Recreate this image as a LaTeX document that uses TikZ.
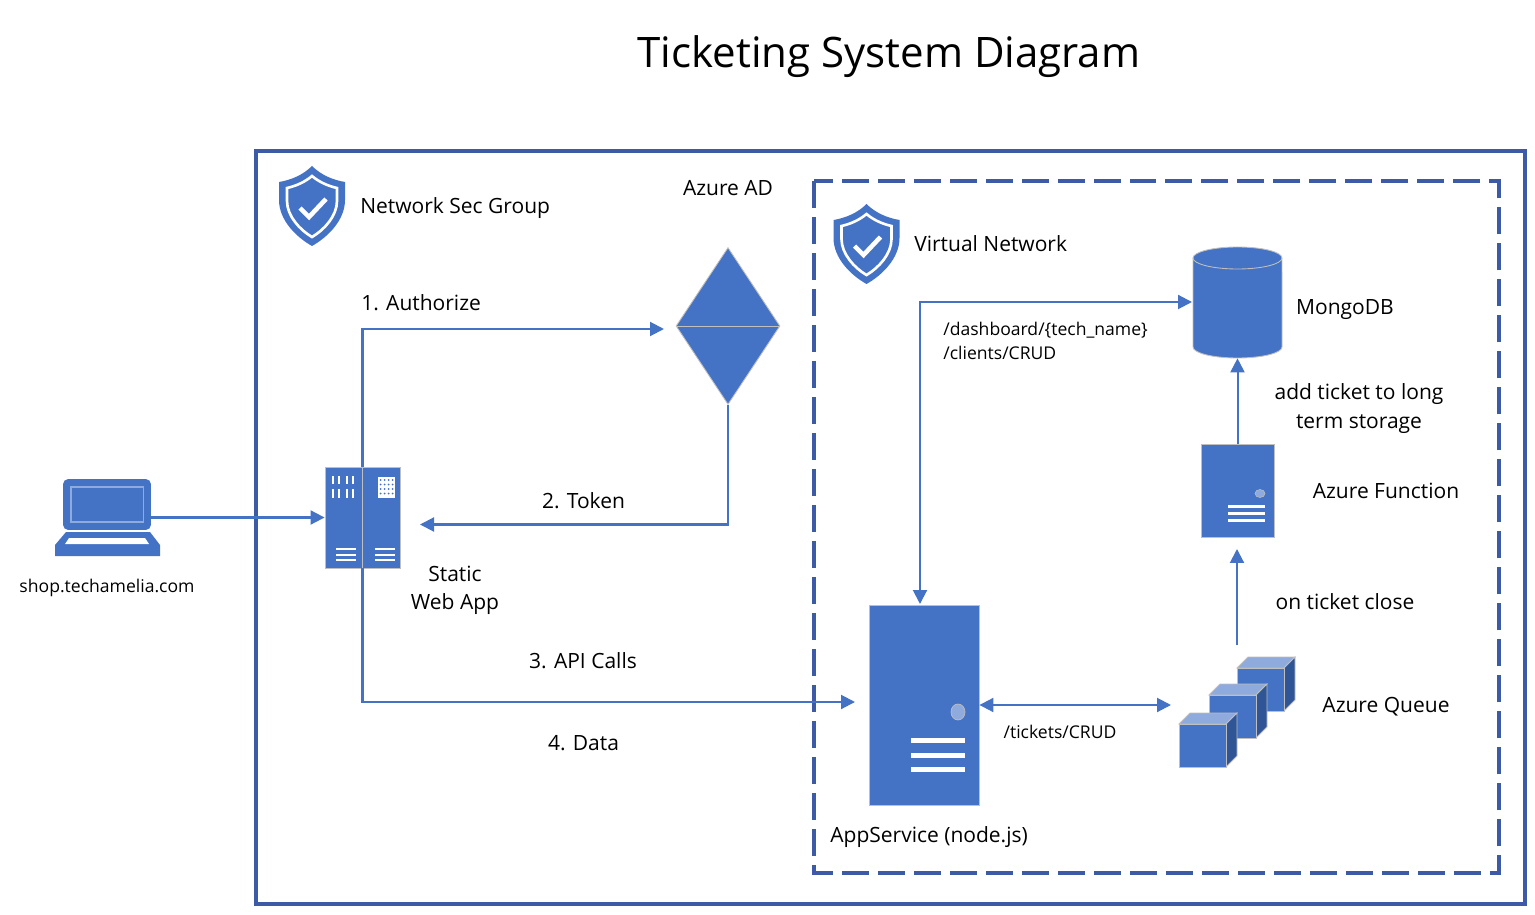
\documentclass[tikz,border=0pt]{standalone}
\usepackage{fontspec}
\setmainfont{Open Sans}
\usetikzlibrary{arrows.meta, positioning, shapes.geometric, calc}
\definecolor{CBlue}{HTML}{4472C4}
\definecolor{CLight}{HTML}{8FAADC}
\definecolor{CDeep}{HTML}{2F5597}
\definecolor{CFrame}{HTML}{3C5AA6}
\tikzset{
    framebox/.style={draw=CFrame, line width=1.8pt},
    iconbox/.style={rectangle, draw=black!25, fill=CBlue, line width=0.5pt, inner sep=0pt},
    flatlink/.style={-{Triangle[length=2.8mm, width=2.8mm]}, draw=CBlue, line width=1.15pt},
    duallink/.style={{Triangle[length=2.8mm, width=2.8mm]}-{Triangle[length=2.8mm, width=2.8mm]}, draw=CBlue, line width=1.15pt},
    labeltext/.style={font=\fontsize{11.95}{16.2}\selectfont, align=center, inner sep=0pt, text=black},
    smalltext/.style={font=\fontsize{10}{13.6}\selectfont, align=left, inner sep=0pt, text=black},
    shieldicon/.pic={
        \fill[CBlue] (0,-40) .. controls (9,-31) and (21,-26) .. (33,-24) -- (33,-6) .. controls (33,14) and (16,31) .. (0,40) .. controls (-16,31) and (-33,14) .. (-33,-6) -- (-33,-24) .. controls (-21,-26) and (-9,-31) .. (0,-40) -- cycle;
        \draw[white, line width=1.5pt] (0,-30) .. controls (7,-24) and (16,-20) .. (25,-18) -- (25,-5) .. controls (25,10) and (12,24) .. (0,31) .. controls (-12,24) and (-25,10) .. (-25,-5) -- (-25,-18) .. controls (-16,-20) and (-7,-24) .. (0,-30) -- cycle;
        \draw[white, line width=2.6pt] (-12,2) -- (-3,11) -- (14,-7);
    },
    queuecube/.pic={
        \filldraw[fill=CLight, draw=black!25, line width=0.5pt] (0,0) -- (11,-11) -- (58,-11) -- (47,0) -- cycle;
        \filldraw[fill=CDeep, draw=black!25, line width=0.5pt] (47,0) -- (58,-11) -- (58,32) -- (47,43) -- cycle;
        \filldraw[fill=CBlue, draw=black!25, line width=0.5pt] (0,0) rectangle (47,43);
    }
}

\begin{document}
\begin{tikzpicture}[x=0.02cm, y=-0.02cm]
    \useasboundingbox (0,0) rectangle (1535,915);

    % Frames
    \node[labeltext, font=\fontsize{23.9}{30}\selectfont] (title) at (889,57) {Ticketing System Diagram};
    \draw[framebox] (256,151) rectangle (1525,904);
    \draw[framebox, dash pattern=on 5.4mm off 1.8mm] (814,181) rectangle (1499,873);

    % Free ends
    \coordinate (adin) at (664,329);
    \coordinate (apiin) at (855,702);
    \coordinate (tokenin) at (420,524.5);
    \coordinate (appin) at (920,604);
    \coordinate (mongoin) at (1192,302);
    \coordinate (queuein) at (1171,705);
    \coordinate (queueout) at (1237,645);
    \coordinate (funcin) at (1237,549);

    % Nodes
    \node[rectangle, rounded corners=3pt, fill=CBlue, minimum width=1.76cm, minimum height=1.02cm, inner sep=0pt] (lapscreen) at (107,504.5) {};
    \node[iconbox, minimum width=1.5cm, minimum height=2.02cm] (staticapp) at (362.5,517.5) {};
    \node[iconbox, diamond, minimum width=2.08cm, minimum height=3.14cm, aspect=0.667] (azuread) at (728,326) {};
    \node[iconbox, minimum width=2.2cm, minimum height=4cm] (appservice) at (924,705) {};
    \node[iconbox, minimum width=1.46cm, minimum height=1.86cm] (azurefunc) at (1237.5,490.5) {};
    \node[rectangle, minimum width=1.78cm, minimum height=2.22cm, inner sep=0pt] (mongo) at (1237.5,302.5) {};

    % Paths
    \draw[flatlink] (lapscreen.east |- staticapp.west) -- (staticapp.west);
    \draw[flatlink] (staticapp.north) |- (adin);
    \draw[flatlink] (staticapp.south) |- (apiin);
    \draw[flatlink] (azuread.south) |- (tokenin);
    \draw[duallink] (appin) |- (mongoin);
    \draw[duallink] (appservice.east) -- (queuein);
    \draw[flatlink] (queueout) -- (funcin);
    \draw[flatlink] (azurefunc.north) -- (mongo.south);

    % Laptop
    \fill[CBlue] (55,556) -- (55,545) -- (66,532) -- (150,532) -- (160,545) -- (160,556) -- cycle;
    \fill[white] (65,544) -- (69,538) -- (145,538) -- (149,544) -- cycle;
    \draw[CLight, line width=0.6pt] (71,487) rectangle (143.5,522);

    % Static web app
    \draw[black!25, line width=0.5pt] (362.5,467) -- (362.5,568);
    \foreach \vx in {333.3,338.7,347.3,352.7} {
        \fill[white] (\vx-1,476) rectangle (\vx+1,484);
        \fill[white] (\vx-1,489) rectangle (\vx+1,498);
    }
    \fill[white] (378,477) rectangle (395,498);
    \foreach \dx in {381,385,389,393} \foreach \dy in {480,484.5,489,493.5}
        \fill[CBlue] (\dx-0.5,\dy) circle[radius=1];
    \foreach \by in {549,555,560} {
        \fill[white] (336,\by-0.8) rectangle (356,\by+0.8);
        \fill[white] (375,\by-0.8) rectangle (395,\by+0.8);
    }

    % Azure AD line
    \draw[black!25, line width=0.5pt] (azuread.west) -- (azuread.east);

    % App service
    \filldraw[fill=CLight, draw=black!25, line width=0.4pt] (958,712) ellipse[x radius=7, y radius=8];
    \foreach \by in {740,755,769}
        \fill[white] (911,\by-2.5) rectangle (965,\by+2.5);

    % Azure function
    \filldraw[fill=CLight, draw=black!25, line width=0.3pt] (1260,493.5) ellipse[x radius=5, y radius=4];
    \foreach \by in {506.5,513.5,520.5}
        \fill[white] (1228,\by-1.2) rectangle (1265,\by+1.2);

    % MongoDB
    \filldraw[fill=CBlue, draw=black!25, line width=0.5pt] (1193,258) arc[start angle=180, end angle=0, x radius=0.89cm, y radius=0.22cm] -- (1282,347) arc[start angle=0, end angle=-180, x radius=0.89cm, y radius=0.22cm] -- cycle;
    \draw[black!25, line width=0.5pt] (1193,258) arc[start angle=180, end angle=360, x radius=0.89cm, y radius=0.22cm];

    % Queue
    \pic at (1237,668) {queuecube};
    \pic at (1209,695) {queuecube};
    \pic at (1179,724) {queuecube};

    % Shields
    \pic at (312,206) {shieldicon};
    \pic at (866.5,244) {shieldicon};

    % Labels
    \node[smalltext, align=center] (shoplabel) at (107,588) {shop.techamelia.com};
    \node[labeltext, anchor=west] (nsglabel) at (360,208) {Network Sec Group};
    \node[labeltext] (adlabel) at (728,188) {Azure AD};
    \node[labeltext, anchor=west] (vnetlabel) at (914,244) {Virtual Network};
    \node[labeltext, anchor=west] (authlabel) at (361,303) {1. Authorize};
    \node[labeltext] (tokenlabel) at (583.5,501) {2. Token};
    \node[labeltext] (staticlabel) at (455,590.5) {Static\\Web App};
    \node[labeltext] (apilabel) at (583,661) {3. API Calls};
    \node[labeltext] (datalabel) at (583.5,743) {4. Data};
    \node[smalltext, anchor=north west] (dashlabel) at (943,322) {/dashboard/\{tech\_name\}\\/clients/CRUD};
    \node[smalltext] (ticketlabel) at (1060,732) {/tickets/CRUD};
    \node[labeltext] (mongolabel) at (1345,310) {MongoDB};
    \node[labeltext] (storelabel) at (1359,408.5) {add ticket to long\\term storage};
    \node[labeltext] (funclabel) at (1386,491) {Azure Function};
    \node[labeltext] (closelabel) at (1345,602) {on ticket close};
    \node[labeltext] (queuelabel) at (1386,707) {Azure Queue};
    \node[labeltext, anchor=west] (applabel) at (830,837) {AppService (node.js)};
\end{tikzpicture}
\end{document}
